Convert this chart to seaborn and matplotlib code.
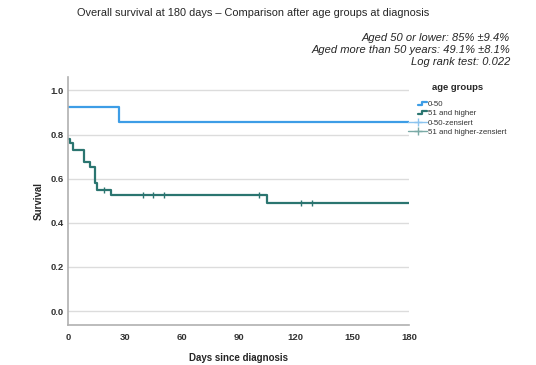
import numpy as np
import pandas as pd
import seaborn as sns
import matplotlib.pyplot as plt
from matplotlib.lines import Line2D
from matplotlib.legend_handler import HandlerLine2D

# survival curves (Kaplan-Meier steps)
young_days = [0, 27, 180]
young_surv = [0.923, 0.857, 0.857]

old_days = [0, 1, 2.5, 8.5, 11.5, 14.5, 15.2, 22.5, 105, 180]
old_surv = [0.782, 0.764, 0.730, 0.678, 0.655, 0.580, 0.547, 0.525, 0.491, 0.491]

# censored observations (older group)
old_cens_days = [19, 39.5, 44.7, 50.8, 101, 122.8, 128.8]
old_cens_surv = [0.547, 0.525, 0.525, 0.525, 0.525, 0.491, 0.491]

groups = ["0-50", "51 and higher"]
colors = ["#3d9de6", "#2b7570"]
cens_colors = ["#8cc4ef", "#7aaaa6"]

title = "Overall survival at 180 days \u2013 Comparison after age groups at diagnosis"
notes = ["Aged 50 or lower: 85% \u00b19.4%",
         "Aged more than 50 years: 49.1% \u00b18.1%",
         "Log rank test: 0.022"]

df = pd.concat([
    pd.DataFrame({"day": young_days, "survival": young_surv, "group": groups[0]}),
    pd.DataFrame({"day": old_days, "survival": old_surv, "group": groups[1]}),
])
cens = pd.DataFrame({"day": old_cens_days, "survival": old_cens_surv})

sns.set_style("white")
plt.rcParams["font.family"] = ["Liberation Sans", "DejaVu Sans"]

fig = plt.figure(figsize=(5.36, 3.65), dpi=100)
ax = fig.add_axes([68 / 536, 1 - 325 / 365, (409 - 68) / 536, (325 - 77) / 365])

for y in [0, 0.2, 0.4, 0.6, 0.8, 1.0]:
    ax.axhline(y, color="#dcdcdc", lw=1, zorder=0)

sns.lineplot(data=df, x="day", y="survival", hue="group", palette=colors,
             drawstyle="steps-post", estimator=None, sort=False, lw=1.6,
             legend=False, ax=ax)
sns.scatterplot(data=cens, x="day", y="survival", marker="|", s=18,
                color=colors[1], linewidth=1, legend=False, ax=ax, zorder=3)

ax.set_xlim(0, 180)
ax.set_ylim(-0.063, 1.061)
ax.set_xticks(range(0, 181, 30))
ax.set_yticks([0, 0.2, 0.4, 0.6, 0.8, 1.0])
ax.set_yticklabels(["0.0", "0.2", "0.4", "0.6", "0.8", "1.0"])
ax.tick_params(axis="y", labelsize=6.8, colors="#333333", length=0, pad=3)
ax.tick_params(axis="x", labelsize=6.8, colors="#333333", length=0, pad=6)
for lab in ax.get_xticklabels() + ax.get_yticklabels():
    lab.set_fontweight("bold")
ax.set_xlabel("Days since diagnosis", fontsize=7, fontweight="bold", labelpad=8)
ax.set_ylabel("Survival", fontsize=7, fontweight="bold", labelpad=5)
for s in ["top", "right"]:
    ax.spines[s].set_visible(False)
for s in ["left", "bottom"]:
    ax.spines[s].set_color("#b0b0b0")
    ax.spines[s].set_linewidth(1.2)


class StepHandler(HandlerLine2D):
    def create_artists(self, legend, orig, xd, yd, w, h, fontsize, trans):
        xs = np.array([0, 0.45, 0.45, 1.0]) * w * 0.5 + w * 0.5 - xd
        ys = np.array([0.2, 0.2, 0.75, 0.75]) * h - yd
        ln = Line2D(xs, ys, color=orig.get_color(), lw=orig.get_linewidth())
        ln.set_transform(trans)
        return [ln]


handles = [
    Line2D([], [], color=colors[0], lw=1.6),
    Line2D([], [], color=colors[1], lw=1.6),
    Line2D([], [], color=cens_colors[0], lw=1, marker="+", markersize=6),
    Line2D([], [], color=cens_colors[1], lw=1, marker="+", markersize=6),
]
labels = [groups[0], groups[1], groups[0] + "-zensiert", groups[1] + "-zensiert"]
leg = fig.legend(handles, labels, title="age groups", loc="upper left",
                 bbox_to_anchor=(405 / 536, 1 - 80 / 365), frameon=False,
                 fontsize=5.7, handlelength=2.4, handletextpad=0.1,
                 labelspacing=0.22, borderaxespad=0,
                 handler_map={handles[0]: StepHandler(), handles[1]: StepHandler()})
leg.get_title().set_fontweight("bold")
leg.get_title().set_fontsize(6.8)
leg._legend_box.sep = 6
for t in leg.get_texts():
    t.set_color("#333333")

fig.text(253 / 536, 1 - 13 / 365, title, ha="center", va="center", fontsize=7.9)
for i, n in enumerate(notes):
    fig.text(510 / 536, 1 - (38 + 12 * i) / 365, n, ha="right", va="center",
             fontsize=8, style="italic")

fig.savefig("out.png", dpi=100)
